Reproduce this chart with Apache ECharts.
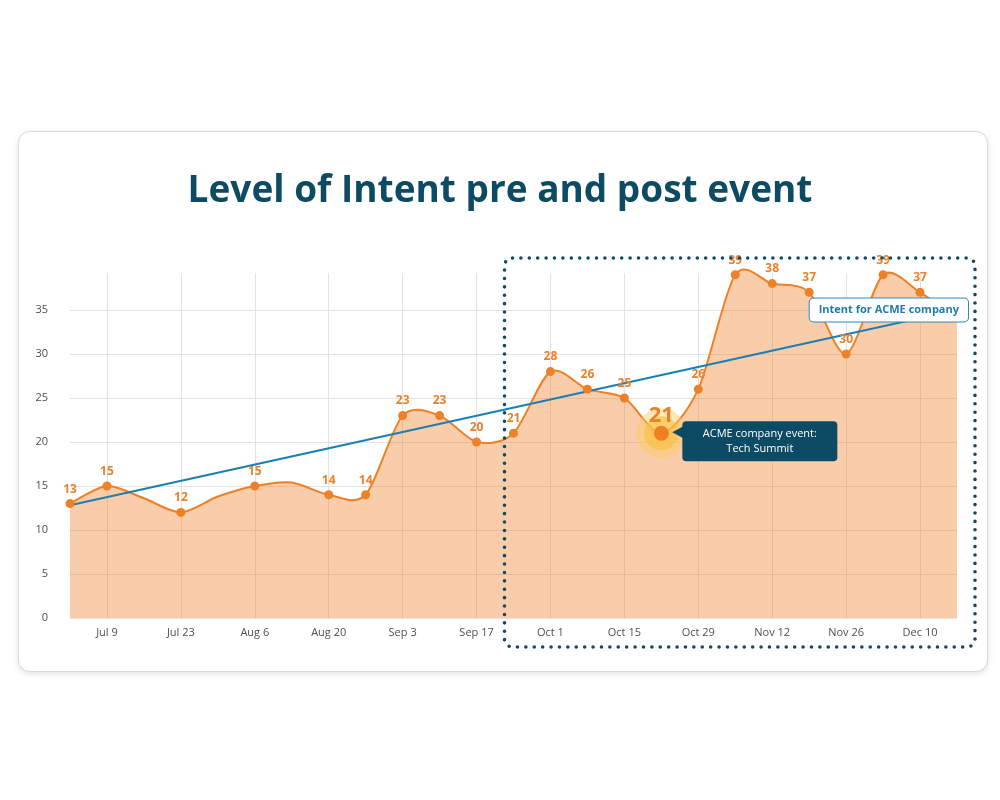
<!DOCTYPE html>
<html>
<head>
<meta charset="utf-8">
<title>Level of Intent pre and post event</title>
<script src="https://cdn.jsdelivr.net/npm/echarts@6/dist/echarts.min.js"></script>
<style>
    body { margin: 0; background: #fff; }
    .card {
        position: absolute; left: 18px; top: 131px; width: 968px; height: 539px;
        border: 1px solid #d9d9d9; border-radius: 12px;
        box-shadow: 0 2px 6px rgba(0, 0, 0, .12); background: #fff;
    }
    #chart { position: absolute; left: 0; top: 0; width: 1000px; height: 800px; }
</style>
</head>
<body>
<div class="card"></div>
<div id="chart"></div>
<script>
// weekly points
var weeks = ["Jul 2", "Jul 9", "Jul 16", "Jul 23", "Jul 30", "Aug 6", "Aug 13", "Aug 20", "Aug 27",
    "Sep 3", "Sep 10", "Sep 17", "Sep 24", "Oct 1", "Oct 8", "Oct 15", "Oct 22", "Oct 29",
    "Nov 5", "Nov 12", "Nov 19", "Nov 26", "Dec 3", "Dec 10", "Dec 17"];
var intent = [13, 15, 13.6, 12, 13.8, 15, 15.4, 14, 14,
    23, 23, 20, 21, 28, 26, 25, 21, 26,
    39, 38, 37, 30, 39, 37, 34];
// weeks drawn without a dot / number
var unmarked = ["Jul 16", "Jul 30", "Aug 13", "Dec 17"];
// x labels shown
var xLabels = ["Jul 9", "Jul 23", "Aug 6", "Aug 20", "Sep 3", "Sep 17", "Oct 1",
    "Oct 15", "Oct 29", "Nov 12", "Nov 26", "Dec 10"];
// trend line ends
var trendWeeks = ["Jul 2", "Dec 17"];
var trendValues = [12.8, 35];
var trendName = "Intent for ACME company";
// event
var eventWeek = "Oct 22";
var eventLines = ["ACME company event:", "Tech Summit"];
// post event box starts here
var boxFrom = "Sep 24";

var FONT = "Open Sans";
var ORANGE = "#ee8126";
var NAVY = "#0d4a63";
var BLUE = "#1a7fb3";
var TENSION = 0.85;

(function() {
    var myChart = echarts.init(document.getElementById("chart"));
    var eventIdx = weeks.indexOf(eventWeek);
    var eventVal = intent[eventIdx];

    // dots + numbers (the curve itself is drawn by the custom series)
    var dotData = intent.map(function(v, i) {
        if (unmarked.indexOf(weeks[i]) >= 0 || i === eventIdx) {
            return { value: v, symbol: "none", label: { show: false } };
        }
        return v;
    });

    var showLabel = function(i, v) {
        return xLabels.indexOf(v) >= 0;
    };

    // catmull-rom curve through the points + filled area
    function renderCurve(params, api) {
        if (params.dataIndex !== 0) return;
        var pts = intent.map(function(v, i) {
            return api.coord([i, v]);
        });
        var base = api.coord([0, 0])[1];
        var n = pts.length;
        var k = TENSION / 6;
        var d = "M" + pts[0][0] + " " + pts[0][1];
        for (var i = 0; i < n - 1; i++) {
            var p0 = pts[Math.max(i - 1, 0)];
            var p1 = pts[i];
            var p2 = pts[i + 1];
            var p3 = pts[Math.min(i + 2, n - 1)];
            var c1x = p1[0] + (p2[0] - p0[0]) * k;
            var c1y = p1[1] + (p2[1] - p0[1]) * k;
            var c2x = p2[0] - (p3[0] - p1[0]) * k;
            var c2y = p2[1] - (p3[1] - p1[1]) * k;
            d += " C" + c1x + " " + c1y + " " + c2x + " " + c2y + " " + p2[0] + " " + p2[1];
        }
        var area = d + " L" + pts[n - 1][0] + " " + base + " L" + pts[0][0] + " " + base + " Z";
        return {
            type: "group",
            children: [
                {
                    type: "path",
                    shape: { pathData: area },
                    style: { fill: "rgba(240,130,40,0.4)", stroke: null }
                },
                {
                    type: "path",
                    shape: { pathData: d },
                    style: { fill: null, stroke: ORANGE, lineWidth: 2 }
                }
            ]
        };
    }

    var option = {
        animation: false,
        textStyle: { fontFamily: FONT },
        title: {
            text: "Level of Intent pre and post event",
            left: "center",
            top: 168,
            textStyle: {
                color: NAVY,
                fontSize: 37,
                fontWeight: "bold",
                fontFamily: FONT
            }
        },
        grid: {
            left: 70,
            right: 43,
            top: 273,
            bottom: 182
        },
        xAxis: {
            type: "category",
            boundaryGap: false,
            data: weeks,
            axisTick: { show: false },
            axisLine: { lineStyle: { color: "#e3e3e3" } },
            axisLabel: {
                interval: showLabel,
                color: "#4f4f4f",
                fontSize: 11,
                margin: 9
            },
            splitLine: {
                show: true,
                interval: showLabel,
                lineStyle: { color: "#e2e2e2" }
            }
        },
        yAxis: {
            type: "value",
            min: 0,
            max: 39.2,
            interval: 5,
            axisLine: { show: false },
            axisTick: { show: false },
            axisLabel: {
                color: "#4f4f4f",
                fontSize: 11,
                margin: 22,
                showMaxLabel: false
            },
            splitLine: {
                showMaxLine: false,
                lineStyle: { color: "#e2e2e2" }
            }
        },
        series: [
            {
                name: "Intent curve",
                type: "custom",
                data: intent.map(function(v, i) { return [i, v]; }),
                encode: { x: 0, y: 1 },
                renderItem: renderCurve,
                z: 2
            },
            {
                name: "Intent",
                type: "line",
                data: dotData,
                symbol: "circle",
                symbolSize: 9,
                lineStyle: { opacity: 0 },
                itemStyle: { color: ORANGE },
                label: {
                    show: true,
                    position: "top",
                    distance: 4,
                    color: "#e9822c",
                    fontSize: 12,
                    fontWeight: "bold"
                },
                z: 4
            },
            {
                name: trendName,
                type: "line",
                data: [[trendWeeks[0], trendValues[0]], [trendWeeks[1], trendValues[1]]],
                symbol: "none",
                lineStyle: { color: BLUE, width: 2 },
                z: 3
            },
            {
                // label box for the trend line
                type: "scatter",
                data: [[trendWeeks[1], trendValues[1]]],
                symbolSize: 0,
                itemStyle: { color: "transparent", opacity: 1 },
                label: {
                    show: true,
                    position: "left",
                    distance: 0,
                    offset: [11, 0],
                    formatter: trendName,
                    color: "#1f7cb2",
                    fontSize: 11,
                    fontWeight: "bold",
                    backgroundColor: "#fff",
                    borderColor: "#2a8ac0",
                    borderWidth: 1,
                    borderRadius: 4,
                    padding: [6, 9]
                },
                z: 5
            },
            {
                // event highlight
                type: "scatter",
                z: 6,
                itemStyle: { opacity: 1 },
                data: [
                    {
                        value: [eventWeek, eventVal],
                        symbolSize: 50,
                        itemStyle: { color: "rgba(252,205,95,0.45)" },
                        label: {
                            show: true,
                            position: "inside",
                            offset: [0, -17],
                            formatter: function(p) { return p.value[1]; },
                            color: "#e8822a",
                            fontSize: 22,
                            fontWeight: "bold"
                        }
                    },
                    {
                        value: [eventWeek, eventVal],
                        symbolSize: 34,
                        itemStyle: { color: "rgba(250,190,60,0.6)" }
                    },
                    {
                        value: [eventWeek, eventVal],
                        symbolSize: 15,
                        itemStyle: { color: "#ee7f22" },
                        label: {
                            show: true,
                            position: "right",
                            distance: 13.5,
                            offset: [0, 8],
                            formatter: eventLines.map(function(s) { return "{t|" + s + "}"; }).join("\n"),
                            backgroundColor: NAVY,
                            borderRadius: 4,
                            padding: [5, 20],
                            rich: {
                                t: {
                                    width: 115,
                                    align: "center",
                                    color: "#fff",
                                    fontSize: 11,
                                    lineHeight: 15,
                                    fontFamily: FONT
                                }
                            }
                        }
                    }
                ]
            }
        ]
    };

    myChart.setOption(option);

    // dotted box and callout pointer, placed from the axes
    var fromIdx = weeks.indexOf(boxFrom);
    var a = myChart.convertToPixel({ gridIndex: 0 }, [fromIdx, 39.2]);
    var b = myChart.convertToPixel({ gridIndex: 0 }, [weeks.length - 1, 0]);
    var e = myChart.convertToPixel({ gridIndex: 0 }, [eventIdx, eventVal]);
    var x0 = a[0] - 9, y0 = a[1] - 15, x1 = b[0] + 18, y1 = b[1] + 29;

    myChart.setOption({
        graphic: [
            {
                type: "rect",
                z: 10,
                shape: { x: x0, y: y0, width: x1 - x0, height: y1 - y0, r: 8 },
                style: {
                    fill: "none",
                    stroke: NAVY,
                    lineWidth: 3.6,
                    lineDash: [0, 8.4],
                    lineCap: "round"
                }
            },
            {
                type: "polygon",
                z: 10,
                shape: {
                    points: [[e[0] + 11, e[1] - 1], [e[0] + 22, e[1] - 7], [e[0] + 22, e[1] + 5]]
                },
                style: { fill: NAVY }
            }
        ]
    });

    window.addEventListener("resize", function() {
        myChart.resize();
    });
})();
</script>
</body>
</html>
